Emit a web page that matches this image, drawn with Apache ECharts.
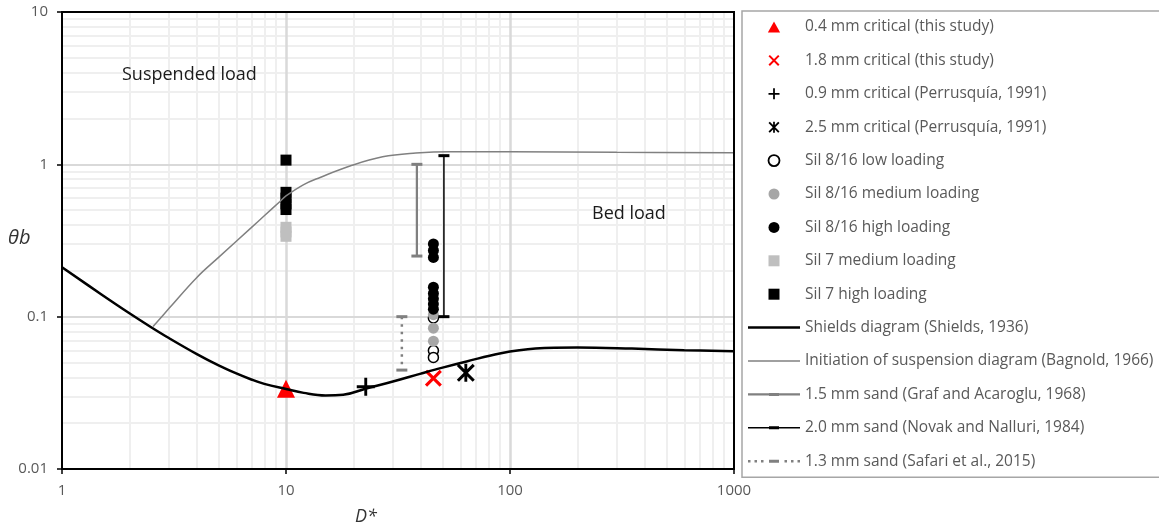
<!DOCTYPE html>
<html><head><meta charset="utf-8">
<script src="https://cdn.jsdelivr.net/npm/echarts@6/dist/echarts.min.js"></script>
<style>html,body{margin:0;padding:0;background:#fff}#c{width:1159px;height:531px}</style>
</head><body><div id="c"></div>
<script>
// ---- tick labels & grid values ----
const xTickValues = [1, 10, 100, 1000];
const xTickLabels = ['1', '10', '100', '1000'];
const yTickValues = [0.01, 0.1, 1, 10];
const yTickLabels = ['0.01', '0.1', '1', '10'];
const xMajorGrid = [10, 100];
const yMajorGrid = [0.1, 1];
const xMinorGrid = [2,3,4,5,6,7,8,9,20,30,40,50,60,70,80,90,200,300,400,500,600,700,800,900];
const yMinorGrid = [0.02,0.03,0.04,0.05,0.06,0.07,0.08,0.09,0.2,0.3,0.4,0.5,0.6,0.7,0.8,0.9,2,3,4,5,6,7,8,9];

// ---- series names ----
const names = [
  '0.4 mm critical (this study)',
  '1.8 mm critical (this study)',
  '0.9 mm critical (Perrusquía, 1991)',
  '2.5 mm critical (Perrusquía, 1991)',
  'Sil 8/16 low loading',
  'Sil 8/16 medium loading',
  'Sil 8/16 high loading',
  'Sil 7 medium loading',
  'Sil 7 high loading',
  'Shields diagram (Shields, 1936)',
  'Initiation of suspension diagram (Bagnold, 1966)',
  '1.5 mm sand (Graf and Acaroglu, 1968)',
  '2.0 mm sand (Novak and Nalluri, 1984)',
  '1.3 mm sand (Safari et al., 2015)'
];

// ---- data: [D*, theta_b] ----
const crit04 = [[10, 0.0336]];
const crit18 = [[45.5, 0.0394]];
const perr09 = [[22.7, 0.0347]];
const perr25 = [[63.5, 0.0428]];
const sil816Low = [[45.5, 0.098], [45.5, 0.060], [45.5, 0.054]];
const sil816Med = [[45.5, 0.103], [45.5, 0.084], [45.5, 0.069]];
const sil816High = [[45.5, 0.300], [45.5, 0.272], [45.5, 0.245], [45.5, 0.156], [45.5, 0.142], [45.5, 0.131], [45.5, 0.121], [45.5, 0.112]];
const sil7Med = [[10, 0.386], [10, 0.360], [10, 0.337]];
const sil7High = [[10, 1.066], [10, 0.655], [10, 0.600], [10, 0.550], [10, 0.505]];
const shields = [[1, 0.211], [1.5, 0.1399], [2, 0.1053], [2.5, 0.0853], [3, 0.0724], [4, 0.0568], [5, 0.0479], [6, 0.0424], [7, 0.0387], [8, 0.0362], [10, 0.0335], [12, 0.0316], [15, 0.0304], [18, 0.0307], [22.8, 0.0338], [30, 0.0375], [40, 0.0423], [50, 0.0463], [64, 0.0508], [90, 0.0573], [130, 0.0617], [200, 0.0627], [350, 0.0617], [600, 0.0602], [1000, 0.0593]];
const bagnold = [[2.55, 0.0862], [3, 0.113], [4, 0.181], [5, 0.245], [7, 0.384], [8, 0.46], [9.4, 0.57], [10, 0.62], [12, 0.736], [14.2, 0.82], [19.3, 0.975], [27, 1.12], [38, 1.185], [54, 1.21], [100, 1.21], [300, 1.2], [1000, 1.19]];
const graf = [[38.4, 1.0], [38.4, 0.25]];
const novak = [[50.7, 1.14], [50.7, 0.1]];
const safari = [[32.9, 0.1], [32.9, 0.0446]];

// ---- symbols ----
const P_X = 'path://M0,1.3L1.3,0L10,8.7L8.7,10Z M8.7,0L10,1.3L1.3,10L0,8.7Z';
const P_PLUS = 'path://M4.2,0H5.8V4.2H10V5.8H5.8V10H4.2V5.8H0V4.2H4.2Z';
const P_STAR = 'path://M0,1.2L1.2,0L10,8.8L8.8,10Z M8.8,0L10,1.2L1.2,10L0,8.8Z M4.2,0H5.8V10H4.2Z';
const P_TRI = 'path://M5,0L10,9H0Z';
const P_SQ = 'path://M0,0H10V10H0Z';
const P_LINE_THICK = 'path://M0,3.75H52V6.25H0Z';
const P_LINE_THIN = 'path://M0,4.25H52V5.75H0Z';
const P_GRAF = 'path://M0,3.9H52V6.1H0Z M21,3.5H31V6.5H21Z';
const P_NOVAK = 'path://M0,4.25H52V5.75H0Z M21,3.5H31V6.5H21Z';
const P_SAFARI = 'path://M0,3.75H2.5V6.25H0Z M6.5,3.75H9V6.25H6.5Z M13,3.75H15.5V6.25H13Z M21,3.5H31V6.5H21Z M36.5,3.75H39V6.25H36.5Z M43,3.75H45.5V6.25H43Z M49.5,3.75H52V6.25H49.5Z';

const FONT = 'Open Sans';
const chart = echarts.init(document.getElementById('c'), null, {renderer: 'canvas'});

function tickFmt(values, labels) {
  return function (v) {
    for (let i = 0; i < values.length; i++) {
      if (Math.abs(Math.log10(v) - Math.log10(values[i])) < 1e-6) return labels[i];
    }
    return '';
  };
}

const gridLines = [];
xMinorGrid.forEach(v => gridLines.push({xAxis: v}));
yMinorGrid.forEach(v => gridLines.push({yAxis: v}));
xMajorGrid.forEach(v => gridLines.push({xAxis: v, lineStyle: {color: '#d9d9d9', width: 2.5, type: 'solid'}}));
yMajorGrid.forEach(v => gridLines.push({yAxis: v, lineStyle: {color: '#d9d9d9', width: 2, type: 'solid'}}));

const black = '#000000';
const sc = (name, data, symbol, size, style) => ({
  type: 'scatter', name, data, symbol, symbolSize: size, z: 3,
  itemStyle: Object.assign({opacity: 1, borderWidth: 0}, style),
  emphasis: {disabled: true}
});

const option = {
  animation: false,
  backgroundColor: '#ffffff',
  textStyle: {fontFamily: FONT},
  grid: {left: 62, top: 12, width: 672, height: 457, show: true, borderColor: '#000', borderWidth: 2, backgroundColor: 'transparent', z: 10},
  xAxis: {
    type: 'log', logBase: 10, min: 1, max: 1000, z: 10,
    axisLine: {show: true, onZero: false, lineStyle: {color: '#000', width: 2}},
    axisTick: {show: true, length: 5, lineStyle: {color: '#000', width: 1.5}},
    axisLabel: {color: '#595959', fontSize: 15, fontFamily: FONT, margin: 14, formatter: tickFmt(xTickValues, xTickLabels)},
    splitLine: {show: false}, minorTick: {show: false}, minorSplitLine: {show: false}
  },
  yAxis: {
    type: 'log', logBase: 10, min: 0.01, max: 10, z: 10,
    axisLine: {show: true, onZero: false, lineStyle: {color: '#000', width: 2}},
    axisTick: {show: true, length: 5, lineStyle: {color: '#000', width: 1.5}},
    axisLabel: {color: '#595959', fontSize: 15, fontFamily: FONT, margin: 14, formatter: tickFmt(yTickValues, yTickLabels)},
    splitLine: {show: false}, minorTick: {show: false}, minorSplitLine: {show: false}
  },
  legend: {
    orient: 'vertical', left: 742, top: 11,
    padding: [7, 40, 7, 6],
    borderColor: '#a6a6a6', borderWidth: 1.5,
    itemWidth: 52, itemHeight: 11, itemGap: 15.4,
    symbolKeepAspect: true,
    selectedMode: false,
    textStyle: {color: '#595959', fontSize: 15.5, fontFamily: FONT, lineHeight: 18},
    data: [
      {name: names[0], icon: P_TRI, itemStyle: {color: '#ff0000', borderWidth: 0}},
      {name: names[1], icon: P_X, itemStyle: {color: '#ff0000', borderWidth: 0}},
      {name: names[2], icon: P_PLUS, itemStyle: {color: black, borderWidth: 0}},
      {name: names[3], icon: P_STAR, itemStyle: {color: black, borderWidth: 0}},
      {name: names[4], icon: 'circle', itemStyle: {color: '#ffffff', borderColor: black, borderWidth: 1.8}},
      {name: names[5], icon: 'circle', itemStyle: {color: '#a6a6a6', borderWidth: 0}},
      {name: names[6], icon: 'circle', itemStyle: {color: black, borderWidth: 0}},
      {name: names[7], icon: P_SQ, itemStyle: {color: '#bfbfbf', borderWidth: 0}},
      {name: names[8], icon: P_SQ, itemStyle: {color: black, borderWidth: 0}},
      {name: names[9], icon: P_LINE_THICK, itemStyle: {color: black, borderWidth: 0}},
      {name: names[10], icon: P_LINE_THIN, itemStyle: {color: '#808080', borderWidth: 0}},
      {name: names[11], icon: P_GRAF, itemStyle: {color: '#808080', borderWidth: 0}},
      {name: names[12], icon: P_NOVAK, itemStyle: {color: black, borderWidth: 0}},
      {name: names[13], icon: P_SAFARI, itemStyle: {color: '#808080', borderWidth: 0}}
    ]
  },
  graphic: [
    {type: 'text', x: 122, y: 75, z: 100, silent: true, style: {text: 'Suspended load', fontSize: 18, fontFamily: FONT, fill: '#1a1a1a', verticalAlign: 'middle'}},
    {type: 'text', x: 592, y: 214, z: 100, silent: true, style: {text: 'Bed load', fontSize: 18, fontFamily: FONT, fill: '#1a1a1a', verticalAlign: 'middle'}},
    {type: 'text', x: 8, y: 238, z: 100, silent: true, style: {text: 'θb', fontSize: 20, fontStyle: 'italic', fontFamily: FONT, fill: '#333333', verticalAlign: 'middle'}},
    {type: 'text', x: 355, y: 517, z: 100, silent: true, style: {text: 'D*', fontSize: 18, fontStyle: 'italic', fontFamily: FONT, fill: '#333333', verticalAlign: 'middle'}}
  ],
  series: [
    {type: 'line', name: '__grid', data: [], z: 1, silent: true,
      markLine: {z: 1, silent: true, symbol: ['none', 'none'], label: {show: false}, emphasis: {disabled: true}, animation: false,
        lineStyle: {color: '#efefef', width: 2, type: 'solid'}, data: gridLines}},
    sc(names[0], crit04, 'triangle', 18, {color: '#ff0000'}),
    sc(names[1], crit18, P_X, 17, {color: '#ff0000'}),
    sc(names[2], perr09, P_PLUS, 18, {color: black}),
    sc(names[3], perr25, P_STAR, 18, {color: black}),
    sc(names[4], sil816Low, 'circle', 10, {color: '#ffffff', borderColor: black, borderWidth: 1.5}),
    sc(names[5], sil816Med, 'circle', 11, {color: '#a6a6a6'}),
    sc(names[6], sil816High, 'circle', 11, {color: black}),
    sc(names[7], sil7Med, 'rect', 11, {color: '#bfbfbf'}),
    sc(names[8], sil7High, 'rect', 11, {color: black}),
    {type: 'line', name: names[9], data: shields, z: 4, smooth: 0.4, showSymbol: false, symbol: 'none', lineStyle: {color: black, width: 2.5}, itemStyle: {color: black}, emphasis: {disabled: true}},
    {type: 'line', name: names[10], data: bagnold, z: 4, smooth: 0.4, showSymbol: false, symbol: 'none', lineStyle: {color: '#808080', width: 1.5}, itemStyle: {color: '#808080'}, emphasis: {disabled: true}},
    {type: 'line', name: names[11], data: graf, z: 4, symbol: 'rect', symbolSize: [11, 3], showSymbol: true, lineStyle: {color: '#808080', width: 2.25}, itemStyle: {color: '#808080', borderWidth: 0, opacity: 1}, emphasis: {disabled: true}},
    {type: 'line', name: names[12], data: novak, z: 4, symbol: 'rect', symbolSize: [11, 3], showSymbol: true, lineStyle: {color: black, width: 1.5}, itemStyle: {color: black, borderWidth: 0, opacity: 1}, emphasis: {disabled: true}},
    {type: 'line', name: names[13], data: safari, z: 4, symbol: 'rect', symbolSize: [11, 3], showSymbol: true, lineStyle: {color: '#808080', width: 2.5, type: [2.5, 5]}, itemStyle: {color: '#808080', borderWidth: 0, opacity: 1}, emphasis: {disabled: true}}
  ]
};
chart.setOption(option);
</script>
</body></html>
